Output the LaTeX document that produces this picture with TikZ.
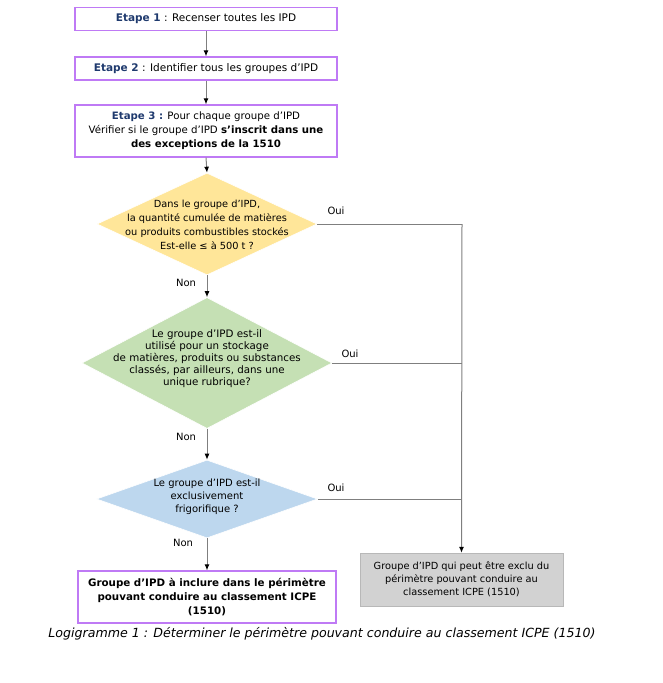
\documentclass[tikz,border=0pt]{standalone}
\usepackage{fontspec}
\setmainfont{DejaVu Sans}
\usetikzlibrary{shapes.geometric,arrows.meta}
\definecolor{boxviolet}{HTML}{BF7AF5}
\definecolor{etape}{HTML}{1F3A6E}
\definecolor{lin}{HTML}{7F7F7F}
\definecolor{dyel}{HTML}{FFE699}
\definecolor{dgrn}{HTML}{C5E0B4}
\definecolor{dblu}{HTML}{BDD7EE}
\definecolor{gbox}{HTML}{D2D2D2}
\definecolor{gbord}{HTML}{B8B8B8}
\tikzset{
  stepbox/.style={draw=boxviolet, line width=1.3pt, fill=white, minimum width=262pt, inner sep=0pt, align=center, font=\fontsize{10.5}{14}\selectfont},
  dia/.style={diamond, draw=white, line width=0.6pt, inner sep=0pt, aspect=2},
  diatxt/.style={align=center, font=\fontsize{10.3}{12}\selectfont},
  conn/.style={draw=lin, line width=1pt},
  arr/.style={conn, -{Latex[length=6pt,width=5pt,color=black]}},
  lbl/.style={font=\fontsize{10}{11}\selectfont, inner sep=0pt},
}
\begin{document}
\begin{tikzpicture}[x=1pt,y=-1pt]
\useasboundingbox (0,0) rectangle (662,683);
\node[stepbox, minimum height=23pt] (e1) at (206,19) {\textcolor{etape}{\textbf{Etape 1}} : Recenser toutes les IPD};
\node[stepbox, minimum height=23pt] (e2) at (206,68.5) {\textcolor{etape}{\textbf{Etape 2}} : Identifier tous les groupes d’IPD};
\node[stepbox, minimum height=52pt, font=\fontsize{10.2}{14}\selectfont] (e3) at (206,131) {\textcolor{etape}{\textbf{Etape 3 :}} Pour chaque groupe d’IPD\\Vérifier si le groupe d’IPD \textbf{s’inscrit dans une}\\\textbf{des exceptions de la 1510}};

\node[dia, fill=dyel, minimum width=220pt, minimum height=102pt] (d1) at (207,224) {};
\node[diatxt, font=\fontsize{9.8}{14}\selectfont] (t1) at (207,225) {Dans le groupe d’IPD,\\la quantité cumulée de matières\\ou produits combustibles stockés\\Est-elle ≤ à 500 t ?};

\node[dia, fill=dgrn, minimum width=250pt, minimum height=131pt] (d2) at (207,363) {};
\node[diatxt] (t2) at (207,359) {Le groupe d’IPD est-il\\utilisé pour un stockage\\de matières, produits ou substances\\classés, par ailleurs, dans une\\unique rubrique?};

\node[dia, fill=dblu, minimum width=221pt, minimum height=78pt] (d3) at (207,499) {};
\node[diatxt, font=\fontsize{10}{13}\selectfont] (t3) at (207,497) {Le groupe d’IPD est-il\\exclusivement\\frigorifique ?};

\node[draw=gbord, fill=gbox, minimum width=203pt, minimum height=53pt, inner sep=0pt, align=center, font=\fontsize{9.8}{13}\selectfont] (g) at (461.5,579.5) {Groupe d’IPD qui peut être exclu du\\périmètre pouvant conduire au\\classement ICPE (1510)};

\node[stepbox, minimum width=258pt, minimum height=52pt, font=\bfseries\fontsize{10.3}{14}\selectfont] (f) at (207,597) {Groupe d’IPD à inclure dans le périmètre\\pouvant conduire au classement ICPE\\(1510)};

\node[font=\itshape\fontsize{12.6}{14}\selectfont, inner sep=0pt] (cap) at (322,634) {Logigramme 1 : Déterminer le périmètre pouvant conduire au classement ICPE (1510)};

\coordinate (c1) at (462,224);
\coordinate (c2) at (462,363);
\coordinate (c3) at (462,499);

\draw[arr] (e1.south) -- (e2.north);
\draw[arr] (e2.south) -- (e3.north);
\draw[arr] (e3.south) -- (d1.north);
\draw[arr] (d1.south) -- (d2.north);
\draw[arr] (d2.south) -- (d3.north);
\draw[arr] (d3.south) -- (f.north);
\draw[conn] (d1.east) -- (c1);
\draw[conn] (d2.east) -- (c2);
\draw[conn] (d3.east) -- (c3);
\draw[arr] (c1) -- (g.north);

\node[lbl] (o1) at (336,211) {Oui};
\node[lbl] (o2) at (350,354) {Oui};
\node[lbl] (o3) at (336,488) {Oui};
\node[lbl] (n1) at (186,283) {Non};
\node[lbl] (n2) at (186,437) {Non};
\node[lbl] (n3) at (183,543) {Non};
\end{tikzpicture}
\end{document}
